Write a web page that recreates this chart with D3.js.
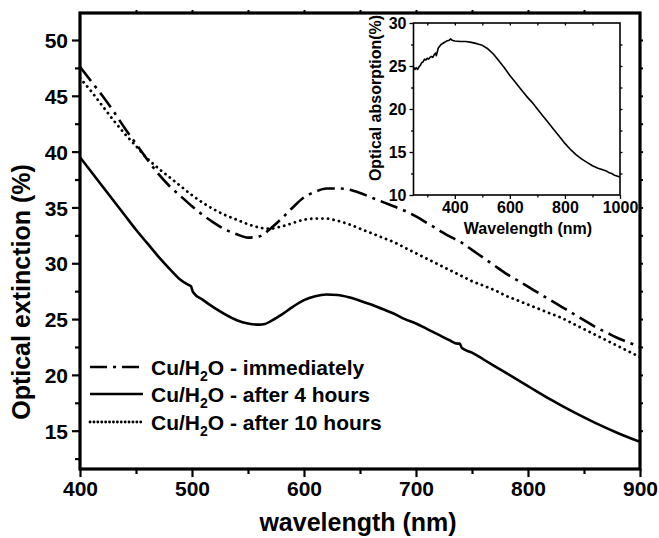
<!DOCTYPE html>
<html>
<head>
<meta charset="utf-8">
<script src="https://cdn.jsdelivr.net/npm/d3@7"></script>
<style>
  html, body { margin: 0; padding: 0; background: #fff; }
  svg { display: block; }
  text { font-family: "Liberation Sans", Arial, sans-serif; font-weight: bold; fill: #000; }
</style>
</head>
<body>
<svg id="chart" width="659" height="538"></svg>
<script>
// ---------------- DATA ----------------
const xTicksMain = [400, 500, 600, 700, 800, 900];
const yTicksMain = [15, 20, 25, 30, 35, 40, 45, 50];

const immWl  = [400,410,420,430,440,450,460,470,480,490,500,510,520,530,540,550,560,570,580,590,600,610,620,630,640,650,660,670,680,690,700,710,720,730,740,750,760,770,780,790,800,810,820,830,840,850,860,870,880,890,900];
const immVal = [47.6,46.3,45.0,43.6,42.1,40.7,39.3,38.0,36.9,36.0,35.1,34.3,33.6,33.0,32.6,32.3,32.4,33.1,34.0,35.0,35.9,36.4,36.7,36.7,36.6,36.3,35.9,35.5,35.1,34.7,34.2,33.6,33.0,32.4,31.9,31.2,30.5,29.8,29.1,28.5,27.9,27.3,26.7,26.1,25.5,24.9,24.3,23.8,23.3,22.9,22.5];

const h4Wl  = [400,410,420,430,440,450,460,470,480,490,496,499,501,510,520,530,540,550,560,565,570,580,590,600,610,620,630,640,650,660,670,680,690,700,710,720,730,737,739,741,750,760,780,800,820,840,860,880,900];
const h4Val = [39.5,38.2,36.9,35.6,34.3,33.0,31.8,30.6,29.5,28.5,28.1,27.95,27.4,26.7,26.0,25.4,24.9,24.6,24.5,24.55,24.8,25.4,26.1,26.7,27.05,27.2,27.15,26.95,26.65,26.3,25.9,25.5,25.0,24.6,24.1,23.6,23.1,22.8,22.8,22.4,22.0,21.4,20.2,19.0,17.8,16.7,15.7,14.8,14.0];

const h10Wl  = [400,410,420,430,440,450,460,470,480,490,500,510,520,530,540,550,560,570,580,590,600,610,620,630,640,650,660,670,680,690,700,710,720,730,738,742,750,760,770,780,790,800,810,820,830,840,850,860,870,880,890,900];
const h10Val = [46.6,45.4,44.1,42.8,41.6,40.5,39.4,38.5,37.7,36.9,36.1,35.4,34.8,34.3,33.9,33.5,33.2,33.1,33.3,33.6,33.9,34.0,34.0,33.8,33.5,33.1,32.7,32.3,31.9,31.4,30.9,30.4,29.9,29.4,29.0,28.8,28.4,28.0,27.6,27.1,26.7,26.3,25.9,25.5,25.1,24.6,24.1,23.6,23.1,22.6,22.1,21.6];

const insetWl  = [250,255,260,265,270,275,280,285,290,295,300,305,310,315,320,325,330,333,336,340,345,350,360,370,380,385,390,400,420,440,460,480,500,520,540,560,580,600,620,640,660,680,700,720,740,760,780,800,820,840,860,880,900,920,940,950,960,970,980,1000];
const insetVal = [24.9,24.6,24.8,24.6,24.9,25.1,25.4,25.5,25.8,25.7,25.9,25.8,26.0,26.1,26.0,26.3,26.5,26.2,26.6,27.1,27.3,27.5,27.7,27.9,28.0,28.15,28.0,27.9,27.85,27.85,27.75,27.6,27.4,27.0,26.4,25.6,24.8,23.9,23.1,22.3,21.5,20.8,20.0,19.2,18.4,17.6,16.8,16.0,15.3,14.7,14.2,13.8,13.4,13.1,12.9,12.8,12.6,12.5,12.3,12.1];
const insetXTicks = [400, 600, 800, 1000];
const insetYTicks = [10, 15, 20, 25, 30];

const seriesNames = ["Cu/H|2|O - immediately", "Cu/H|2|O - after 4 hours", "Cu/H|2|O - after 10 hours"];

// ---------------- LAYOUT ----------------
const svg = d3.select("#chart");
const L = 80, R = 640, T = 13, B = 469;
const x = d3.scaleLinear().domain([400, 900]).range([L, R]);
const y = d3.scaleLinear().domain([15, 50]).range([430.7, 40]);

const styles = [
  {dash: "18,6,3,6", cap: "butt", w: 2.6},
  {dash: null, cap: "butt", w: 2.6},
  {dash: "0.1,5.5", cap: "round", w: 2.8}
];

const g = svg.append("g");

// Clip
svg.append("clipPath").attr("id", "clipMain").append("rect")
  .attr("x", L).attr("y", T).attr("width", R - L).attr("height", B - T);

const line = d3.line().x(d => x(d[0])).y(d => y(d[1])).curve(d3.curveMonotoneX);
const seriesData = [
  immWl.map((w, i) => [w, immVal[i]]),
  h4Wl.map((w, i) => [w, h4Val[i]]),
  h10Wl.map((w, i) => [w, h10Val[i]])
];
seriesData.forEach((d, i) => {
  g.append("path").attr("d", line(d)).attr("fill", "none")
    .attr("stroke", "#000").attr("stroke-width", styles[i].w)
    .attr("stroke-dasharray", styles[i].dash).attr("stroke-linecap", styles[i].cap)
    .attr("stroke-linejoin", "round")
    .attr("clip-path", "url(#clipMain)");
});

// Axes (main)
const minorX = d3.range(450, 900, 100);
const minorY = d3.range(12.5, 52.6, 5);
function styleAxis(sel) {
  sel.select(".domain").remove();
  sel.selectAll(".tick line").attr("stroke", "#000").attr("stroke-width", 2.2);
  sel.selectAll(".tick text").style("font-size", "21px").style("font-weight", "bold")
    .style("font-family", "'Liberation Sans', Arial, sans-serif");
}
const xAxis = g.append("g").attr("transform", `translate(0,${B})`)
  .call(d3.axisBottom(x).tickValues(xTicksMain).tickSize(8).tickPadding(4).tickFormat(d3.format("d")));
styleAxis(xAxis);
g.append("g").attr("transform", `translate(0,${B})`)
  .call(d3.axisBottom(x).tickValues(minorX).tickSize(5).tickFormat(""))
  .call(s => { s.select(".domain").remove(); s.selectAll("line").attr("stroke-width", 2.2); });

const yAxis = g.append("g").attr("transform", `translate(${L},0)`)
  .call(d3.axisLeft(y).tickValues(yTicksMain).tickSize(8).tickPadding(4).tickFormat(d3.format("d")));
styleAxis(yAxis);
yAxis.selectAll(".tick text").attr("dy", "0.36em");
g.append("g").attr("transform", `translate(${L},0)`)
  .call(d3.axisLeft(y).tickValues(minorY.filter(v => y(v) > T && y(v) < B)).tickSize(5).tickFormat(""))
  .call(s => { s.select(".domain").remove(); s.selectAll("line").attr("stroke-width", 2.2); });

// Top & right mirrored ticks
g.append("g").attr("transform", `translate(0,${T})`)
  .call(d3.axisTop(x).tickValues(d3.range(450, 900, 50)).tickSize(3).tickFormat(""))
  .call(s => { s.select(".domain").remove(); s.selectAll("line").attr("stroke-width", 2); });
g.append("g").attr("transform", `translate(${R},0)`)
  .call(d3.axisRight(y).tickValues(d3.range(15, 51, 2.5).filter(v => y(v) > T + 3 && y(v) < B - 3)).tickSize(3).tickFormat(""))
  .call(s => { s.select(".domain").remove(); s.selectAll("line").attr("stroke-width", 2); });

// Frame
g.append("rect").attr("x", L).attr("y", T).attr("width", R - L).attr("height", B - T)
  .attr("fill", "none").attr("stroke", "#000").attr("stroke-width", 3.2);

// Axis titles
g.append("text").attr("x", 358).attr("y", 531).attr("text-anchor", "middle")
  .style("font-size", "25px").text("wavelength (nm)");
g.append("text").attr("transform", "translate(30,292) rotate(-90)").attr("text-anchor", "middle")
  .style("font-size", "25px").text("Optical extinction (%)");

// Legend
const legY = [367, 394, 422];
seriesNames.forEach((name, i) => {
  g.append("line").attr("x1", 90).attr("x2", 143).attr("y1", legY[i]).attr("y2", legY[i])
    .attr("stroke", "#000").attr("stroke-width", styles[i].w)
    .attr("stroke-dasharray", i === 0 ? "17,6,3,6" : (i === 2 ? "0.1,3.8" : null))
    .attr("stroke-linecap", styles[i].cap);
  const parts = name.split("|");
  const t = g.append("text").attr("x", 151).attr("y", legY[i] + 8).style("font-size", "21px");
  t.append("tspan").text(parts[0]);
  t.append("tspan").attr("dy", 6).style("font-size", "14px").text(parts[1]);
  t.append("tspan").attr("dy", -6).text(parts[2]);
});

// ---------------- INSET ----------------
const iL = 413.5, iR = 620, iT = 23, iB = 195;
const ix = d3.scaleLinear().domain([250, 1000]).range([iL, iR]);
const iy = d3.scaleLinear().domain([10, 30]).range([iB, iT]);
const ig = svg.append("g");
ig.append("rect").attr("x", iL).attr("y", iT).attr("width", iR - iL).attr("height", iB - iT)
  .attr("fill", "#fff").attr("stroke", "none");

const iline = d3.line().x(d => ix(d[0])).y(d => iy(d[1])).curve(d3.curveLinear);
ig.append("path").attr("d", iline(insetWl.map((w, i) => [w, insetVal[i]])))
  .attr("fill", "none").attr("stroke", "#000").attr("stroke-width", 1.6).attr("stroke-linejoin", "round");

function styleInset(s) {
  s.select(".domain").remove();
  s.selectAll(".tick line").attr("stroke", "#000").attr("stroke-width", 1.3);
  s.selectAll(".tick text").style("font-size", "16px").style("font-weight", "bold")
    .style("font-family", "'Liberation Sans', Arial, sans-serif");
}
const ixa = ig.append("g").attr("transform", `translate(0,${iB})`)
  .call(d3.axisBottom(ix).tickValues(insetXTicks).tickSize(4).tickPadding(3).tickFormat(d3.format("d")));
styleInset(ixa);
ig.append("g").attr("transform", `translate(0,${iB})`)
  .call(d3.axisBottom(ix).tickValues([300, 500, 700, 900]).tickSize(2.5).tickFormat(""))
  .call(styleInset);
const iya = ig.append("g").attr("transform", `translate(${iL},0)`)
  .call(d3.axisLeft(iy).tickValues(insetYTicks).tickSize(4).tickPadding(3).tickFormat(d3.format("d")));
styleInset(iya);
iya.selectAll(".tick text").attr("dy", "0.36em");
ig.append("g").attr("transform", `translate(${iL},0)`)
  .call(d3.axisLeft(iy).tickValues([12.5, 17.5, 22.5, 27.5]).tickSize(2.5).tickFormat(""))
  .call(styleInset);
// mirrored top/right ticks
ig.append("g").attr("transform", `translate(0,${iT})`)
  .call(d3.axisBottom(ix).tickValues([300,400,500,600,700,800,900]).tickSize(2.5).tickFormat(""))
  .call(styleInset);
ig.append("g").attr("transform", `translate(${iR},0)`)
  .call(d3.axisRight(iy).tickValues([12.5,15,17.5,20,22.5,25,27.5]).tickSize(2.5).tickFormat(""))
  .call(styleInset);

ig.append("rect").attr("x", iL).attr("y", iT).attr("width", iR - iL).attr("height", iB - iT)
  .attr("fill", "none").attr("stroke", "#000").attr("stroke-width", 1.6);

ig.append("text").attr("x", 528).attr("y", 234).attr("text-anchor", "middle")
  .style("font-size", "16px").text("Wavelength (nm)");
ig.append("text").attr("transform", "translate(381,98) rotate(-90)").attr("text-anchor", "middle")
  .style("font-size", "16px").text("Optical absorption(%)");
</script>
</body>
</html>
